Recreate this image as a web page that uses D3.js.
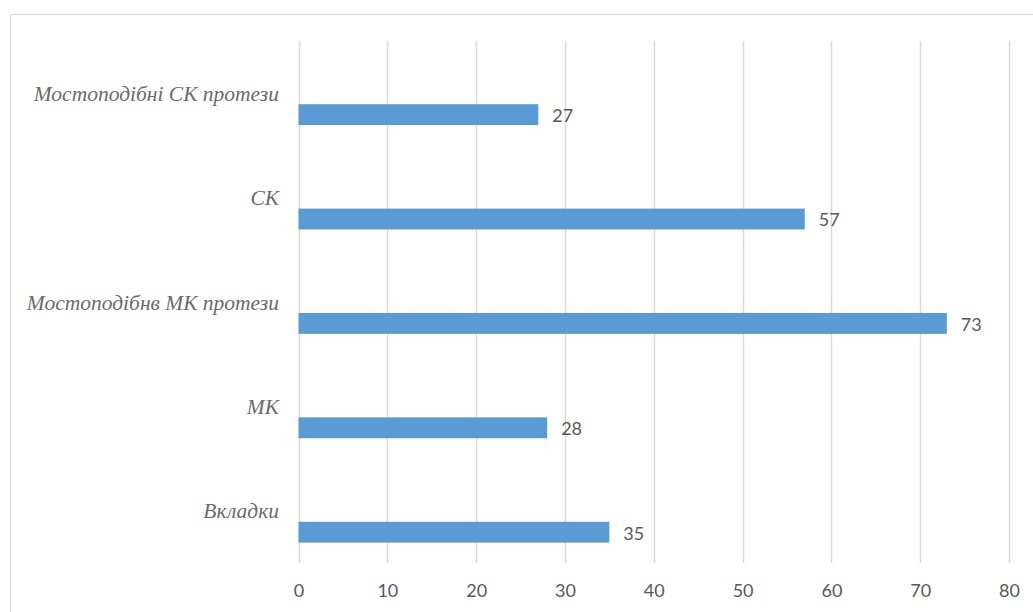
<!DOCTYPE html>
<html>
<head>
<meta charset="utf-8">
<script src="https://cdn.jsdelivr.net/npm/d3@7"></script>
<style>
  html, body { margin: 0; padding: 0; background: #fff; }
  svg { display: block; }
</style>
</head>
<body>
<svg id="chart" width="1033" height="612"></svg>
<script>
// Categories listed top to bottom
const categories = [
  "Мостоподібні СК протези",
  "СК",
  "Мостоподібнв МК протези",
  "МК",
  "Вкладки"
];
const values = [27, 57, 73, 28, 35];
const tickValues = [0, 10, 20, 30, 40, 50, 60, 70, 80];

const svg = d3.select("#chart");

// Outer chart frame
svg.append("rect")
  .attr("x", 10.5).attr("y", 14.5)
  .attr("width", 1040).attr("height", 620)
  .attr("fill", "none").attr("stroke", "#d9d9d9").attr("stroke-width", 1);

const x = d3.scaleLinear().domain([0, 80]).range([298.5, 1009]);
const y = d3.scaleBand().domain(categories).range([41, 563]).padding(0);

// Vertical gridlines
svg.append("g")
  .selectAll("line")
  .data(tickValues)
  .join("line")
  .attr("x1", d => Math.round(x(d)) + 0.5)
  .attr("x2", d => Math.round(x(d)) + 0.5)
  .attr("y1", 41).attr("y2", 563)
  .attr("stroke", "#d9d9d9").attr("stroke-width", 1.5);

// X axis tick labels
const xAxis = d3.axisBottom(x).tickValues(tickValues).tickSize(0).tickPadding(0);
const gx = svg.append("g").attr("transform", "translate(0,597)").call(xAxis);
gx.select(".domain").remove();
gx.selectAll("text")
  .attr("dy", 0)
  .attr("font-family", "Lato, 'Open Sans', sans-serif")
  .attr("font-size", 18)
  .attr("fill", "#595959");

// Category labels at band centers
svg.append("g")
  .selectAll("text")
  .data(categories)
  .join("text")
  .attr("x", 279)
  .attr("y", d => y(d) + y.bandwidth() / 2)
  .attr("dy", "0.35em")
  .attr("text-anchor", "end")
  .attr("font-family", "'Liberation Serif', 'Times New Roman', serif")
  .attr("font-style", "italic")
  .attr("font-size", 21.5)
  .attr("fill", "#6b6b6b")
  .text(d => d);

// Bars
const barTop = d => y(d) + y.bandwidth() * 0.605;
const barH = y.bandwidth() * 0.2;
svg.append("g")
  .selectAll("rect")
  .data(categories)
  .join("rect")
  .attr("x", x(0))
  .attr("y", d => barTop(d))
  .attr("width", (d, i) => x(values[i]) - x(0))
  .attr("height", barH)
  .attr("fill", "#5b9bd5");

// Value labels
svg.append("g")
  .selectAll("text")
  .data(categories)
  .join("text")
  .attr("x", (d, i) => x(values[i]) + 14)
  .attr("y", d => barTop(d) + barH / 2 + 1)
  .attr("dy", "0.35em")
  .attr("font-family", "Lato, 'Open Sans', sans-serif")
  .attr("font-size", 18)
  .attr("fill", "#595959")
  .text((d, i) => values[i]);
</script>
</body>
</html>
